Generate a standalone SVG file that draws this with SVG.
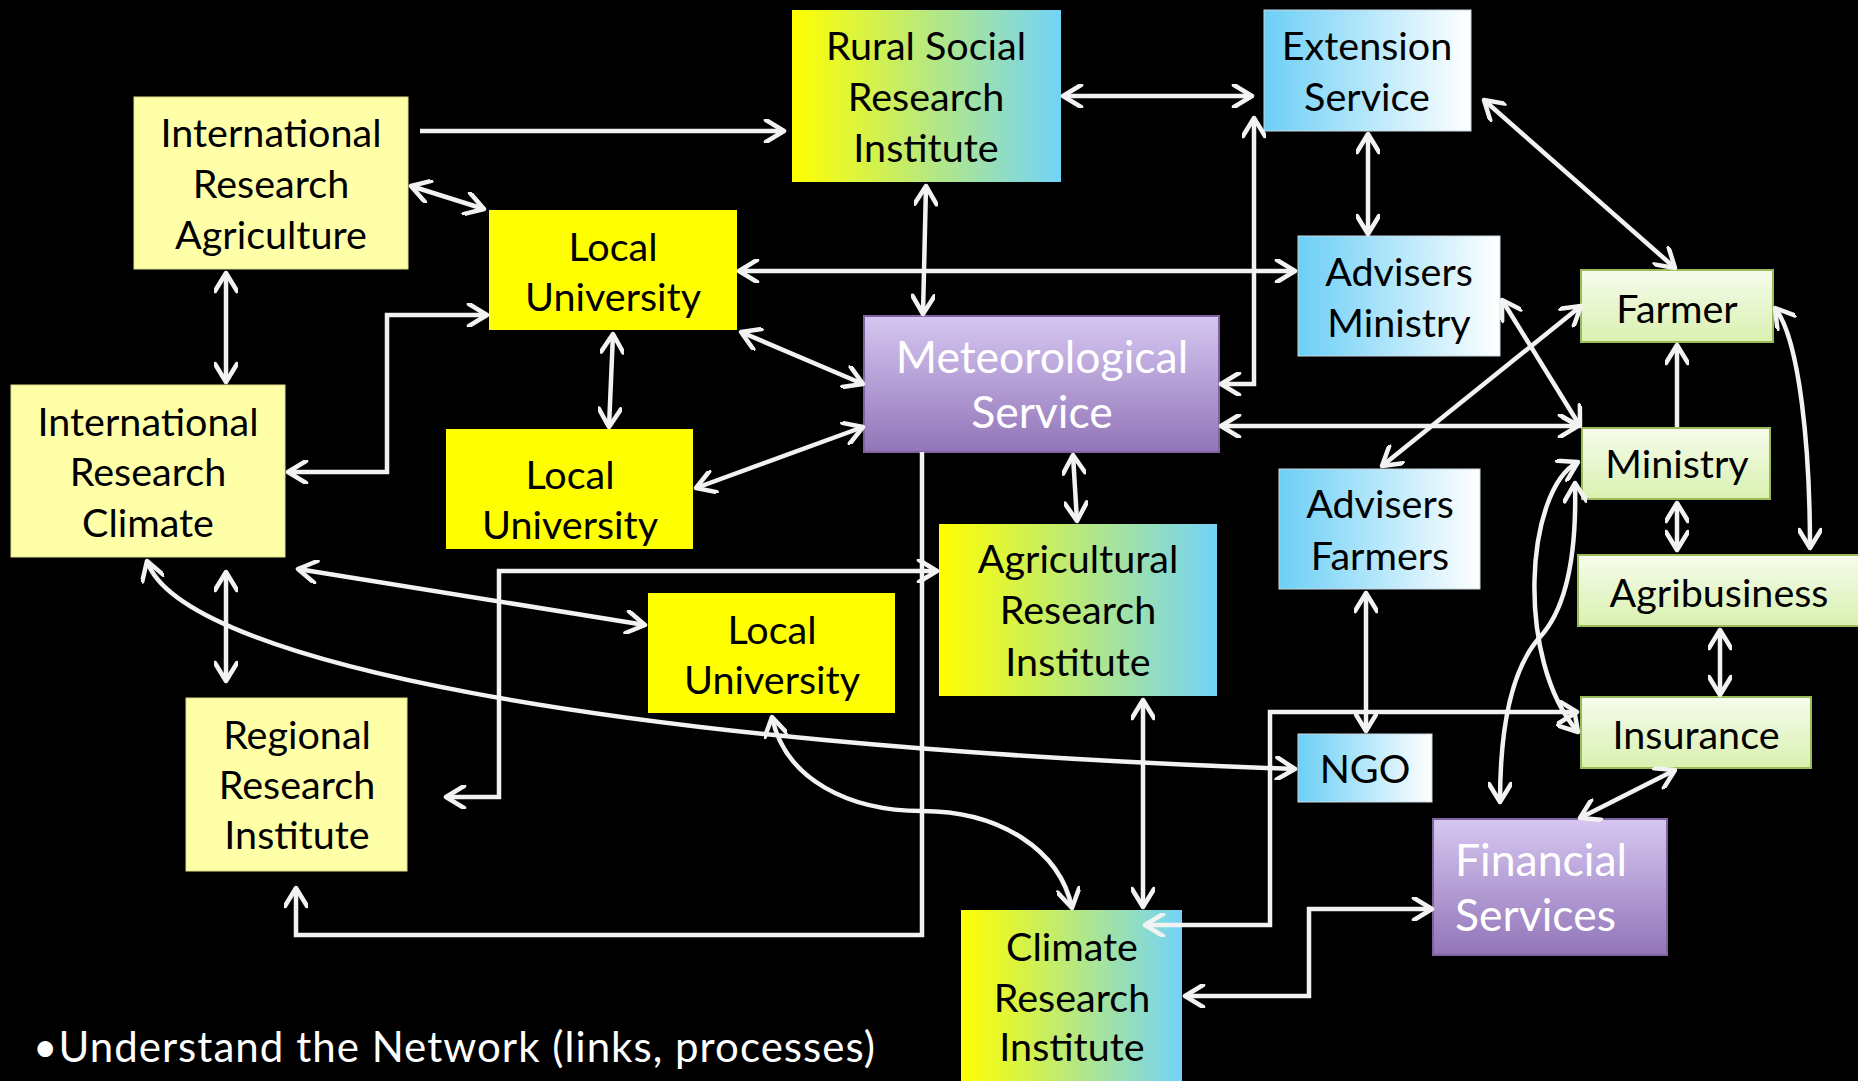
<svg xmlns="http://www.w3.org/2000/svg" width="1858" height="1081" viewBox="0 0 1858 1081">
<defs>
<linearGradient id="gYB" x1="0" y1="0" x2="1" y2="0"><stop offset="0" stop-color="#FFFF00"/><stop offset="1" stop-color="#72D3F8"/></linearGradient>
<linearGradient id="gBW" x1="0" y1="0" x2="1" y2="0"><stop offset="0" stop-color="#6CCFF6"/><stop offset="1" stop-color="#FFFFFF"/></linearGradient>
<linearGradient id="gGr" x1="0" y1="0" x2="0" y2="1"><stop offset="0" stop-color="#F6FBEC"/><stop offset="1" stop-color="#D9F1B0"/></linearGradient>
<linearGradient id="gPu" x1="0" y1="0" x2="0" y2="1"><stop offset="0" stop-color="#D6C7F1"/><stop offset="1" stop-color="#9275B8"/></linearGradient>
<marker id="ah" viewBox="0 0 24 24" refX="21" refY="12" markerWidth="24" markerHeight="24" markerUnits="userSpaceOnUse" orient="auto-start-reverse">
<path d="M3,1 L21,12 L3,23" fill="none" stroke="#F2F2F2" stroke-width="4.5" stroke-linecap="round" stroke-linejoin="round"/>
</marker>
</defs>
<style>
.lbl{font-family:Lato,"Liberation Sans",sans-serif;font-size:39.5px;fill:#000;text-anchor:middle}
.big{font-family:Lato,"Liberation Sans",sans-serif;font-size:44.5px;fill:#FFF}
.ly{fill:#FFFFA8;stroke:#E0E08A;stroke-width:1}
.yy{fill:#FFFF00}
.yb{fill:url(#gYB)}
.bw{fill:url(#gBW);stroke:#C8D8E0;stroke-width:1}
.gr{fill:url(#gGr);stroke:#9BBB59;stroke-width:2}
.pu{fill:url(#gPu);stroke:#8064A2;stroke-width:2}
.c{fill:none;stroke:#F2F2F2;stroke-width:4.5;stroke-linejoin:miter}
.b{marker-start:url(#ah);marker-end:url(#ah)}
.e{marker-end:url(#ah)}
</style>
<rect x="0" y="0" width="1858" height="1081" fill="#000"/>

<g id="n-ira"><rect class="ly" x="134" y="97" width="274" height="172"/>
<text class="lbl" x="271" y="147">International</text><text class="lbl" x="271" y="198">Research</text><text class="lbl" x="271" y="249">Agriculture</text></g>
<g id="n-irc"><rect class="ly" x="11" y="385" width="274" height="172"/>
<text class="lbl" x="148" y="436">International</text><text class="lbl" x="148" y="486">Research</text><text class="lbl" x="148" y="537">Climate</text></g>
<g id="n-rri"><rect class="ly" x="186" y="698" width="221" height="173"/>
<text class="lbl" x="297" y="749">Regional</text><text class="lbl" x="297" y="799">Research</text><text class="lbl" x="297" y="849">Institute</text></g>
<g id="n-lu1"><rect class="yy" x="489" y="210" width="248" height="120"/>
<text class="lbl" x="613" y="261">Local</text><text class="lbl" x="613" y="311">University</text></g>
<g id="n-lu2"><rect class="yy" x="446" y="429" width="247" height="120"/>
<text class="lbl" x="570" y="489">Local</text><text class="lbl" x="570" y="539">University</text></g>
<g id="n-lu3"><rect class="yy" x="648" y="593" width="247" height="120"/>
<text class="lbl" x="772" y="644">Local</text><text class="lbl" x="772" y="694">University</text></g>
<g id="n-rsri"><rect class="yb" x="792" y="10" width="269" height="172"/>
<text class="lbl" x="926" y="60">Rural Social</text><text class="lbl" x="926" y="111">Research</text><text class="lbl" x="926" y="162">Institute</text></g>
<g id="n-ari"><rect class="yb" x="939" y="524" width="278" height="172"/>
<text class="lbl" x="1078" y="573">Agricultural</text><text class="lbl" x="1078" y="624">Research</text><text class="lbl" x="1078" y="676">Institute</text></g>
<g id="n-cri"><rect class="yb" x="961" y="910" width="221" height="180"/>
<text class="lbl" x="1072" y="961">Climate</text><text class="lbl" x="1072" y="1012">Research</text><text class="lbl" x="1072" y="1061">Institute</text></g>
<g id="n-met"><rect class="pu" x="864" y="316" width="355" height="136"/>
<text class="big" x="1042" y="373" text-anchor="middle">Meteorological</text><text class="big" x="1042" y="428" text-anchor="middle">Service</text></g>
<g id="n-fin"><rect class="pu" x="1433" y="819" width="234" height="136"/>
<text class="big" x="1455" y="876">Financial</text><text class="big" x="1455" y="931">Services</text></g>
<g id="n-ext"><rect class="bw" x="1264" y="10" width="207" height="121"/>
<text class="lbl" x="1367" y="60">Extension</text><text class="lbl" x="1367" y="111">Service</text></g>
<g id="n-advm"><rect class="bw" x="1298" y="236" width="202" height="120"/>
<text class="lbl" x="1399" y="286">Advisers</text><text class="lbl" x="1399" y="337">Ministry</text></g>
<g id="n-advf"><rect class="bw" x="1279" y="469" width="201" height="120"/>
<text class="lbl" x="1380" y="518">Advisers</text><text class="lbl" x="1380" y="570">Farmers</text></g>
<g id="n-ngo"><rect class="bw" x="1298" y="734" width="134" height="68"/>
<text class="lbl" x="1365" y="783">NGO</text></g>
<g id="n-farmer"><rect class="gr" x="1581" y="270" width="192" height="72"/>
<text class="lbl" x="1677" y="323">Farmer</text></g>
<g id="n-ministry"><rect class="gr" x="1582" y="428" width="188" height="71"/>
<text class="lbl" x="1677" y="478">Ministry</text></g>
<g id="n-agri"><rect class="gr" x="1578" y="555" width="284" height="71"/>
<text class="lbl" x="1719" y="607">Agribusiness</text></g>
<g id="n-ins"><rect class="gr" x="1581" y="697" width="230" height="71"/>
<text class="lbl" x="1696" y="749">Insurance</text></g>

<g id="connectors">
<path class="c e" d="M420,131 L784,131"/>
<path class="c b" d="M411,186 L484,209"/>
<path class="c b" d="M226,273 L226,382"/>
<path class="c b" d="M487,315 L387,315 L387,472 L288,472"/>
<path class="c b" d="M613,334 L609,427"/>
<path class="c b" d="M739,271 L1295,271"/>
<path class="c b" d="M741,332 L863,384"/>
<path class="c b" d="M696,488 L863,427"/>
<path class="c b" d="M926,186 L923,314"/>
<path class="c b" d="M1063,96 L1252,96"/>
<path class="c b" d="M1221,384 L1254,384 L1254,118"/>
<path class="c b" d="M1221,426 L1578,426"/>
<path class="c b" d="M1073,455 L1077,521"/>
<path class="c e" d="M922,452 L922,935 L296,935 L296,888"/>
<path class="c b" d="M1368,134 L1368,234"/>
<path class="c b" d="M1484,100 L1675,268"/>
<path class="c b" d="M1502,300 L1580,426"/>
<path class="c b" d="M1581,306 L1382,466"/>
<path class="c e" d="M1677,427 L1677,345"/>
<path class="c b" d="M1775,308 C1800,340 1810,450 1810,548"/>
<path class="c b" d="M1677,503 L1677,550"/>
<path class="c b" d="M1720,630 L1720,695"/>
<path class="c b" d="M1675,770 L1580,818"/>
<path class="c b" d="M1578,462 C1525,490 1515,660 1578,732"/>
<path class="c b" d="M1575,483 C1577,560 1565,610 1540,637 C1510,670 1500,730 1500,802"/>
<path class="c b" d="M147,561 C180,660 600,745 1295,769"/>
<path class="c b" d="M298,569 L645,625"/>
<path class="c b" d="M226,572 L226,681"/>
<path class="c b" d="M937,571 L499,571 L499,797 L446,797"/>
<path class="c b" d="M772,717 C785,780 850,811 922,811 C1000,811 1060,850 1072,908"/>
<path class="c b" d="M1143,700 L1143,907"/>
<path class="c b" d="M1145,925 L1270,925 L1270,712 L1577,712"/>
<path class="c b" d="M1185,996 L1309,996 L1309,909 L1432,909"/>
<path class="c b" d="M1366,593 L1366,731"/>
</g>

<text x="33" y="1062" font-family="Lato,'Liberation Sans',sans-serif" font-size="42" fill="#FFFFFF" textLength="842" lengthAdjust="spacing">•Understand the Network (links, processes)</text>
</svg>
